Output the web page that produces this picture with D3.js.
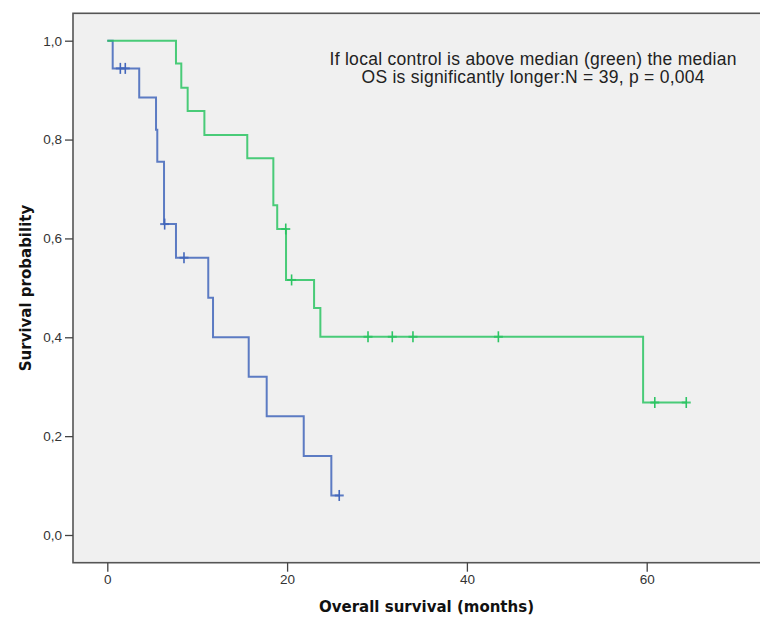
<!DOCTYPE html>
<html><head><meta charset="utf-8">
<script src="https://cdn.jsdelivr.net/npm/d3@7"></script>
<style>body{margin:0;background:#fff;}svg{display:block;}</style>
</head><body>
<svg id="c" width="760" height="617"></svg>
<script>
// Kaplan-Meier steps: [time (months), survival]
const blueTimes = [0, 0.6, 3.55, 5.42, 5.56, 6.31, 7.64, 11.23, 11.76, 15.73, 17.73, 21.85, 24.92];
const blueSurv  = [1.0, 0.944, 0.885, 0.82, 0.755, 0.629, 0.561, 0.48, 0.40, 0.32, 0.24, 0.16, 0.08];
const blueEnd = 25.8;
const blueCensorTimes = [1.45, 2.0, 6.38, 8.53, 25.8];
const blueCensorSurv  = [0.944, 0.944, 0.629, 0.561, 0.08];

const greenTimes = [0, 7.64, 8.23, 8.94, 10.8, 15.57, 18.47, 18.9, 19.88, 23.0, 23.7, 59.6];
const greenSurv  = [1.0, 0.954, 0.905, 0.858, 0.809, 0.762, 0.667, 0.619, 0.516, 0.459, 0.401, 0.268];
const greenEnd = 64.4;
const greenCensorTimes = [19.85, 20.5, 29.0, 31.7, 34.0, 43.5, 60.9, 64.4];
const greenCensorSurv  = [0.619, 0.516, 0.401, 0.401, 0.401, 0.401, 0.268, 0.268];

const xTicks = [0, 20, 40, 60];
const yTicks = [0, 0.2, 0.4, 0.6, 0.8, 1.0];
const noteLines = ["If local control is above median (green) the median",
                   "OS is significantly longer:N = 39, p = 0,004"];

const svg = d3.select("#c");
const x = d3.scaleLinear().domain([0, 60]).range([107.3, 646.7]);
const y = d3.scaleLinear().domain([0, 1]).range([535, 40.7]);
const L = 73, T = 13.3, R = 763, B = 562.7;

svg.append("rect").attr("x", L).attr("y", T).attr("width", R - L).attr("height", B - T)
  .attr("fill", "#f0f0f0").attr("stroke", "#555").attr("stroke-width", 1.6);

// y axis
const yAxis = d3.axisLeft(y).tickValues(yTicks).tickSize(8).tickPadding(3)
  .tickFormat(d => d3.format(".1f")(d).replace(".", ","));
const gy = svg.append("g").attr("transform", `translate(${L},0)`).call(yAxis);
gy.select(".domain").remove();
gy.selectAll(".tick line").attr("stroke", "#444").attr("stroke-width", 1.3);
gy.selectAll(".tick text").attr("fill", "#333").style("font-family", "Liberation Sans, Arial, sans-serif").style("font-size", "13.5px");

// x axis
const xAxis = d3.axisBottom(x).tickValues(xTicks).tickSize(9).tickPadding(3).tickFormat(d3.format("d"));
const gx = svg.append("g").attr("transform", `translate(0,${B})`).call(xAxis);
gx.select(".domain").remove();
gx.selectAll(".tick line").attr("stroke", "#444").attr("stroke-width", 1.3);
gx.selectAll(".tick text").attr("fill", "#333").style("font-family", "Liberation Sans, Arial, sans-serif").style("font-size", "13.5px");

// curves
const line = d3.line().x(d => x(d[0])).y(d => y(d[1])).curve(d3.curveStepAfter);
function drawGroup(times, surv, end, cT, cS, color) {
  const pts = times.map((t, i) => [t, surv[i]]);
  pts.push([end, surv[surv.length - 1]]);
  svg.append("path").attr("d", line(pts)).attr("fill", "none")
    .attr("stroke", color).attr("stroke-width", 2).attr("stroke-opacity", 0.85);
  const g = svg.append("g");
  cT.forEach((t, i) => {
    const cx = x(t), cy = y(cS[i]);
    g.append("line").attr("x1", cx).attr("x2", cx).attr("y1", cy - 5.5).attr("y2", cy + 5.5)
      .attr("stroke", color).attr("stroke-width", 1.6);
    g.append("line").attr("x1", cx - 4.5).attr("x2", cx + 4.5).attr("y1", cy).attr("y2", cy)
      .attr("stroke", color).attr("stroke-width", 2).attr("stroke-opacity", 0.85);
  });
}
drawGroup(blueTimes, blueSurv, blueEnd, blueCensorTimes, blueCensorSurv, "#4266bb");
drawGroup(greenTimes, greenSurv, greenEnd, greenCensorTimes, greenCensorSurv, "#2cc463");

// annotation
const noteLen = [407, 343];
noteLines.forEach((s, i) => {
  svg.append("text").attr("x", 533).attr("y", 64.5 + i * 18.5).attr("text-anchor", "middle")
    .attr("textLength", noteLen[i]).attr("lengthAdjust", "spacing")
    .style("font-family", "Liberation Sans, Arial, sans-serif").style("font-size", "17.5px")
    .attr("fill", "#222").text(s);
});

// axis titles
svg.append("text").attr("x", 426.5).attr("y", 611.5).attr("text-anchor", "middle")
  .style("font-family", "DejaVu Sans, sans-serif").style("font-weight", "bold").style("font-size", "15px")
  .attr("fill", "#111").text("Overall survival (months)");
svg.append("text").attr("transform", "translate(30.5,288) rotate(-90)").attr("text-anchor", "middle")
  .style("font-family", "DejaVu Sans, sans-serif").style("font-weight", "bold").style("font-size", "15px")
  .attr("fill", "#111").text("Survival probability");
</script>
</body></html>
